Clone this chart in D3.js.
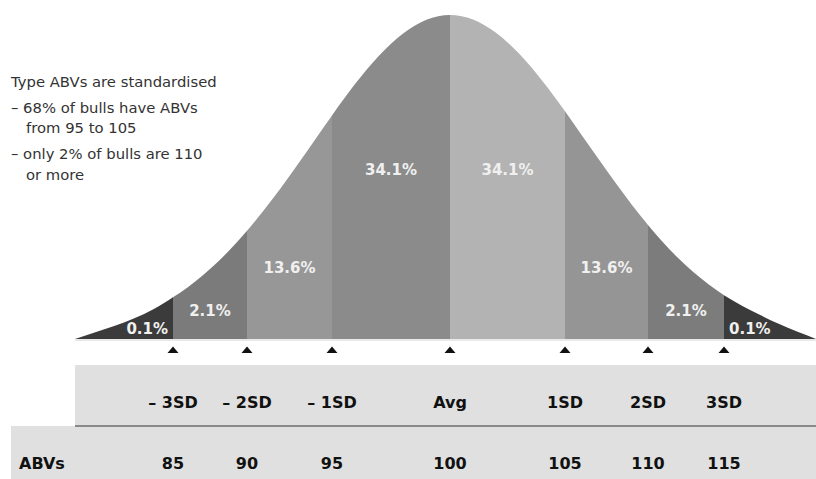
<!DOCTYPE html>
<html>
<head>
<meta charset="utf-8">
<script src="https://cdn.jsdelivr.net/npm/d3@7"></script>
<style>
  html, body { margin: 0; padding: 0; background: #fff; }
  svg { display: block; }
</style>
</head>
<body>
<svg id="chart" width="816" height="479"></svg>
<script>
// ---- data ----
// ABV values marking each standard-deviation step
const tickAbv = [85, 90, 95, 100, 105, 110, 115];
const tickSd = ["\u2013 3SD", "\u2013 2SD", "\u2013 1SD", "Avg", "1SD", "2SD", "3SD"];
// band edges (ABV) and the share of bulls in each band
const bandEdges = [80, 85, 90, 95, 100, 105, 110, 115, 120];
const bandShare = [0.1, 2.1, 13.6, 34.1, 34.1, 13.6, 2.1, 0.1];
// bell outline: ABV and relative height (peak = 100)
const curveAbv = [80, 81, 82, 83, 84, 85, 86, 87, 88, 89, 90, 91, 92, 93, 94, 95, 96, 97, 98, 99, 100,
                  101, 102, 103, 104, 105, 106, 107, 108, 109, 110, 111, 112, 113, 114, 115, 116, 117, 118, 119, 120];
const curveHeight = [0, 2.0, 4.0, 6.3, 9.2, 12.9, 16.0, 19.6, 23.7, 28.3, 33.4, 39.8, 46.7, 54.0, 61.5, 69.0, 78.9, 87.5, 94.2, 98.5, 100,
                     98.6, 94.5, 88.1, 79.8, 70.3, 63.0, 55.7, 48.5, 41.6, 35.2, 29.8, 24.9, 20.6, 16.8, 13.5, 10.2, 7.3, 4.6, 2.2, 0];
const introLines = [
  "Type ABVs are standardised",
  "\u2013 68% of bulls have ABVs",
  "from 95 to 105",
  "\u2013 only 2% of bulls are 110",
  "or more"
];

// ---- styling ----
const bandFill = ["#3b3b3b", "#7b7b7b", "#979797", "#8b8b8b", "#b3b3b3", "#959595", "#7c7c7c", "#3b3b3b"];
const font = "'DejaVu Sans', sans-serif";

const svg = d3.select("#chart");

// the axis is stretched around the mean, so the scale is piecewise linear
const x = d3.scaleLinear()
  .domain(bandEdges)
  .range([75, 173, 247, 332, 450, 565, 648, 724, 816]);
const y = d3.scaleLinear().domain([0, 100]).range([339, 15]);

const pts = curveAbv.map((a, i) => [a, curveHeight[i]]);
const area = d3.area()
  .x(d => x(d[0]))
  .y0(y(0))
  .y1(d => y(d[1]))
  .curve(d3.curveMonotoneX);

svg.append("defs").append("clipPath").attr("id", "bell")
  .append("path").attr("d", area(pts));

// faint rule under the bell
svg.append("line")
  .attr("x1", x(80)).attr("x2", x(120))
  .attr("y1", y(0) + 1).attr("y2", y(0) + 1)
  .attr("stroke", "#d4d4d4").attr("stroke-width", 1);

const bands = bandShare.map((v, i) => ({ v, a: bandEdges[i], b: bandEdges[i + 1], i }));

const g = svg.append("g").attr("clip-path", "url(#bell)");
g.selectAll("rect").data(bands).join("rect")
  .attr("x", d => x(d.a))
  .attr("width", d => x(d.b) - x(d.a))
  .attr("y", y(100))
  .attr("height", y(0) - y(100))
  .attr("fill", d => bandFill[d.i]);

// percentage labels: tails sit against their inner edge, the rest are centred
const labelBase = { 0.1: 333.5, 2.1: 315.5, 13.6: 272.5, 34.1: 174.5 };
svg.selectAll("text.pct").data(bands).join("text")
  .attr("class", "pct")
  .attr("x", d => {
    if (d.i === 0) return x(d.b) - 5;
    if (d.i === bands.length - 1) return x(d.a) + 5;
    return (x(d.a) + x(d.b)) / 2;
  })
  .attr("y", d => labelBase[d.v])
  .attr("text-anchor", d => d.i === 0 ? "end" : (d.i === bands.length - 1 ? "start" : "middle"))
  .attr("font-family", font)
  .attr("font-weight", "bold")
  .attr("font-size", 15)
  .attr("fill", "#f0f0f0")
  .text(d => d.v.toFixed(1) + "%");

// tick markers
svg.selectAll("path.tri").data(tickAbv).join("path")
  .attr("class", "tri")
  .attr("d", d => `M${x(d) - 5.5},353 L${x(d)},346.5 L${x(d) + 5.5},353 Z`)
  .attr("fill", "#111");

// table rows
svg.append("rect").attr("x", x(80)).attr("y", 365).attr("width", 816 - x(80)).attr("height", 60)
  .attr("fill", "#e0e0e0");
svg.append("rect").attr("x", 11).attr("y", 426).attr("width", 805).attr("height", 53)
  .attr("fill", "#e0e0e0");
svg.append("line").attr("x1", x(80)).attr("x2", 816).attr("y1", 426).attr("y2", 426)
  .attr("stroke", "#8a8a8a").attr("stroke-width", 2);

svg.selectAll("text.sd").data(tickAbv).join("text")
  .attr("class", "sd")
  .attr("x", d => x(d))
  .attr("y", 407.5)
  .attr("text-anchor", "middle")
  .attr("font-family", font)
  .attr("font-weight", "bold")
  .attr("font-size", 16)
  .attr("fill", "#111")
  .text((d, i) => tickSd[i]);

svg.selectAll("text.abv").data(tickAbv).join("text")
  .attr("class", "abv")
  .attr("x", d => x(d))
  .attr("y", 468.5)
  .attr("text-anchor", "middle")
  .attr("font-family", font)
  .attr("font-weight", "bold")
  .attr("font-size", 16)
  .attr("fill", "#111")
  .text(d => d);

svg.append("text")
  .attr("x", 19).attr("y", 468.5)
  .attr("font-family", font)
  .attr("font-weight", "bold")
  .attr("font-size", 16)
  .attr("fill", "#111")
  .text("ABVs");

// explanatory note
const noteBase = [87.3, 113.3, 133.3, 159, 179.5];
svg.selectAll("text.note").data(introLines).join("text")
  .attr("class", "note")
  .attr("x", (d, i) => (i === 2 || i === 4) ? 26 : 11)
  .attr("y", (d, i) => noteBase[i])
  .attr("font-family", font)
  .attr("font-size", 14.8)
  .attr("fill", "#333")
  .text(d => d);
</script>
</body>
</html>
